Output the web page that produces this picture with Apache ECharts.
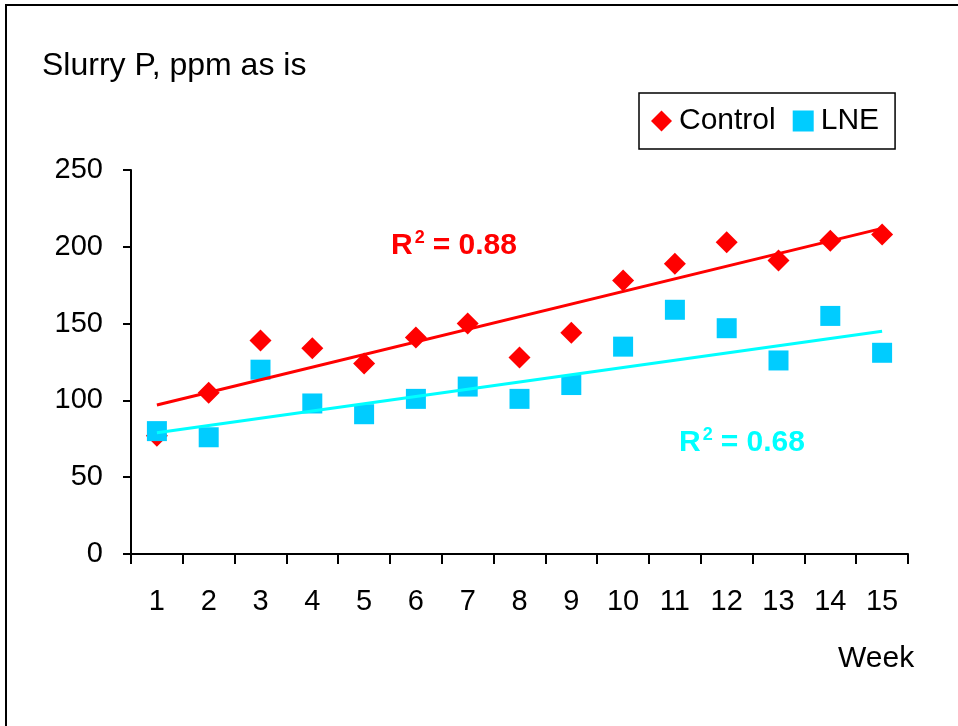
<!DOCTYPE html>
<html>
<head>
<meta charset="utf-8">
<script src="https://cdn.jsdelivr.net/npm/echarts@6/dist/echarts.min.js"></script>
<style>
html,body{margin:0;padding:0;background:#fff;}
#chart{width:958px;height:726px;}
</style>
</head>
<body>
<div id="chart"></div>
<script>
var weeks = ['1','2','3','4','5','6','7','8','9','10','11','12','13','14','15'];
var controlValues = [77,105,139,134,124,141,150,128,144,178,189,203,191,204,208];
var lneValues = [80,76,120,98,91,101,109,101,110,135,159,147,126,155,131];
// trend line end values (week 1 and week 15)
var controlTrend = [97,212];
var lneTrend = [79,145];
var yTicks = [0,50,100,150,200,250];
var controlR2 = '0.88';
var lneR2 = '0.68';

var FONT = 'Liberation Sans, Arial, sans-serif';
var chart = echarts.init(document.getElementById('chart'));

function trendData(t){
  return [[weeks[0], t[0]], [weeks[weeks.length-1], t[1]]];
}

var option = {
  backgroundColor: '#fff',
  animation: false,
  textStyle: {fontFamily: FONT},
  title: {
    text: 'Slurry P, ppm as is',
    left: 37, top: 45,
    textStyle: {fontFamily: FONT, fontSize: 32, fontWeight: 'normal', color: '#000'}
  },
  legend: {
    left: 639, top: 93,
    padding: [13, 16, 13, 12],
    borderColor: '#000', borderWidth: 1.5,
    itemWidth: 21, itemHeight: 21, itemGap: 17,
    textStyle: {fontFamily: FONT, fontSize: 30, color: '#000', padding: [0,0,0,2]},
    data: [{name: 'Control', icon: 'diamond'}, {name: 'LNE', icon: 'rect'}]
  },
  grid: {left: 131, right: 50, top: 170, bottom: 172, containLabel: false},
  xAxis: {
    type: 'category',
    data: weeks,
    boundaryGap: true,
    axisLine: {lineStyle: {color: '#000', width: 2}},
    axisTick: {show: true, inside: false, length: 10, lineStyle: {color: '#000', width: 2}, alignWithLabel: false},
    axisLabel: {fontFamily: FONT, fontSize: 29, color: '#000', margin: 33},
    splitLine: {show: false}
  },
  yAxis: {
    type: 'value',
    min: yTicks[0], max: yTicks[yTicks.length-1], interval: 50,
    axisLine: {show: true, lineStyle: {color: '#000', width: 2}},
    axisTick: {show: true, inside: false, length: 8, lineStyle: {color: '#000', width: 2}},
    axisLabel: {fontFamily: FONT, fontSize: 29, color: '#000', margin: 28},
    splitLine: {show: false}
  },
  series: [
    {
      name: 'Control', type: 'scatter', data: controlValues,
      symbol: 'diamond', symbolSize: 22,
      itemStyle: {color: '#FF0000', opacity: 1}, z: 2
    },
    {
      name: 'LNE', type: 'scatter', data: lneValues,
      symbol: 'rect', symbolSize: 20,
      itemStyle: {color: '#00CCFF', opacity: 1}, z: 3
    },
    {
      name: 'Control trend', type: 'line', data: trendData(controlTrend),
      showSymbol: false, symbol: 'none',
      lineStyle: {color: '#FF0000', width: 3}, z: 4
    },
    {
      name: 'LNE trend', type: 'line', data: trendData(lneTrend),
      showSymbol: false, symbol: 'none',
      lineStyle: {color: '#00FFFF', width: 3}, z: 4
    }
  ],
  graphic: [
    {
      type: 'rect', silent: true, z: 100,
      shape: {x: 6, y: 5, width: 1200, height: 1200},
      style: {fill: 'none', stroke: '#000', lineWidth: 2}
    },
    {
      type: 'text', left: 838, top: 644, z: 100,
      style: {text: 'Week', font: '30px ' + FONT, fill: '#000'}
    },
    {
      type: 'text', left: 391, top: 229, z: 100,
      style: {
        text: '{a|R}{s|2}{a|= ' + controlR2 + '}',
        rich: {
          a: {fontFamily: FONT, fontSize: 30, fontWeight: 'bold', fill: '#FF0000', color: '#FF0000', lineHeight: 34},
          s: {fontFamily: FONT, fontSize: 18, fontWeight: 'bold', fill: '#FF0000', color: '#FF0000', lineHeight: 34, verticalAlign: 'top', padding: [0,8,0,2]}
        }
      }
    },
    {
      type: 'text', left: 679, top: 426, z: 100,
      style: {
        text: '{a|R}{s|2}{a|= ' + lneR2 + '}',
        rich: {
          a: {fontFamily: FONT, fontSize: 30, fontWeight: 'bold', fill: '#00FFFF', color: '#00FFFF', lineHeight: 34},
          s: {fontFamily: FONT, fontSize: 18, fontWeight: 'bold', fill: '#00FFFF', color: '#00FFFF', lineHeight: 34, verticalAlign: 'top', padding: [0,8,0,2]}
        }
      }
    }
  ]
};
chart.setOption(option);
</script>
</body>
</html>
